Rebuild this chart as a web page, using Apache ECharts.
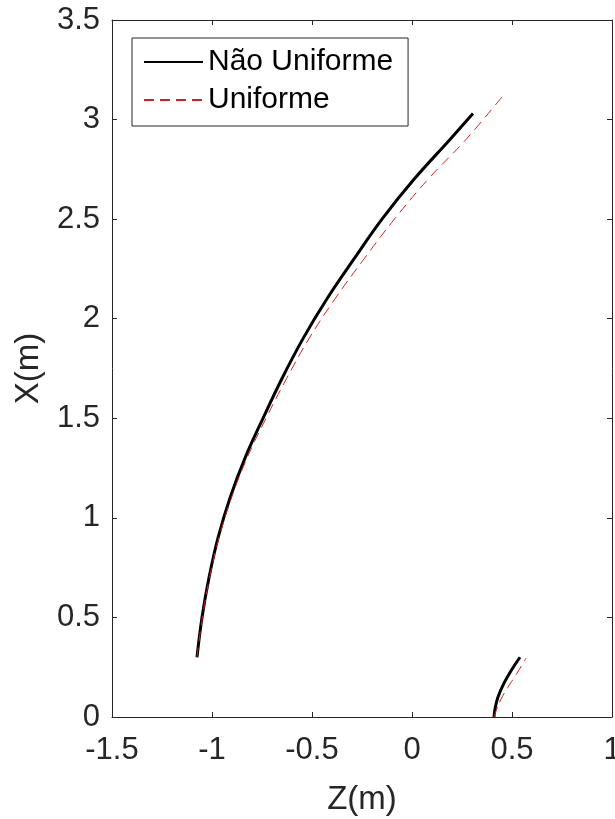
<!DOCTYPE html>
<html>
<head>
<meta charset="utf-8">
<script src="https://cdn.jsdelivr.net/npm/echarts@6/dist/echarts.min.js"></script>
<style>html,body{margin:0;padding:0;background:#fff;}#c{width:615px;height:819px;}</style>
</head>
<body>
<div id="c"></div>
<script>
// Non-uniform (black solid), main branch: [Z, X]
const naoUniformeA = [[-1.075,0.30],[-1.05,0.50],[-1.015,0.70],[-0.97,0.90],[-0.91,1.10],[-0.835,1.30],[-0.745,1.50],[-0.65,1.70],[-0.545,1.90],[-0.425,2.10],[-0.29,2.30],[-0.15,2.50],[0.01,2.70],[0.19,2.90],[0.305,3.03]];
// Non-uniform, lower branch
const naoUniformeB = [[0.41,0.0],[0.415,0.04],[0.43,0.10],[0.46,0.17],[0.50,0.24],[0.54,0.30]];
// Uniform (red dashed), main branch
const uniformeA = [[-1.075,0.30],[-1.048,0.50],[-1.012,0.70],[-0.965,0.90],[-0.903,1.10],[-0.825,1.30],[-0.73,1.50],[-0.627,1.70],[-0.515,1.90],[-0.385,2.10],[-0.24,2.30],[-0.088,2.50],[0.08,2.70],[0.27,2.90],[0.46,3.126]];
// Uniform, lower branch
const uniformeB = [[0.41,0.0],[0.42,0.03],[0.445,0.09],[0.48,0.15],[0.525,0.22],[0.57,0.296]];
const xTicks = [-1.5,-1,-0.5,0,0.5,1];
const yTicks = [0,0.5,1,1.5,2,2.5,3,3.5];

const font = 'Liberation Sans, Arial, Helvetica, sans-serif';
const txt = '#262626';
const chart = echarts.init(document.getElementById('c'));
const blackStyle = {color:'#000', width:3, type:'solid'};
const redStyle = {color:'#d42020', width:1, type:[10,6]};
const tickStyle = {show:true,inside:true,length:5,lineStyle:{color:txt}};
chart.setOption({
  animation:false,
  backgroundColor:'#fff',
  grid:{left:112,right:3,top:20,bottom:102,show:false,containLabel:false,outerBoundsMode:'none'},
  legend:{
    orient:'vertical', left:132, top:38,
    backgroundColor:'#fff', borderColor:txt, borderWidth:1, borderRadius:0,
    padding:[5,15,7,11], itemGap:0, itemWidth:59, itemHeight:14,
    itemStyle:{opacity:0},
    textStyle:{fontFamily:font, fontSize:30, lineHeight:38, color:'#000'},
    data:['Não Uniforme','Uniforme']
  },
  xAxis:[{
    type:'value', min:xTicks[0], max:xTicks[xTicks.length-1], interval:0.5,
    name:'Z(m)', nameLocation:'middle', nameGap:66,
    nameTextStyle:{fontFamily:font,fontSize:33,color:txt},
    axisLine:{show:true,onZero:false,lineStyle:{color:txt}},
    axisTick:tickStyle,
    axisLabel:{fontFamily:font,fontSize:31,color:txt,margin:18,formatter:v=>String(v)},
    splitLine:{show:false}
  },{
    type:'value', position:'top', min:xTicks[0], max:xTicks[xTicks.length-1], interval:0.5,
    axisLine:{show:true,onZero:false,lineStyle:{color:txt}},
    axisTick:tickStyle,
    axisLabel:{show:false}, splitLine:{show:false}
  }],
  yAxis:[{
    type:'value', min:yTicks[0], max:yTicks[yTicks.length-1], interval:0.5,
    name:'X(m)', nameLocation:'middle', nameGap:67, nameRotate:90,
    nameTextStyle:{fontFamily:font,fontSize:33,color:txt},
    axisLine:{show:true,onZero:false,lineStyle:{color:txt}},
    axisTick:tickStyle,
    axisLabel:{fontFamily:font,fontSize:31,color:txt,margin:12,formatter:v=>String(v)},
    splitLine:{show:false}
  },{
    type:'value', position:'right', min:yTicks[0], max:yTicks[yTicks.length-1], interval:0.5,
    axisLine:{show:true,onZero:false,lineStyle:{color:txt}},
    axisTick:tickStyle,
    axisLabel:{show:false}, splitLine:{show:false}
  }],
  series:[
    {name:'Uniforme', type:'line', data:uniformeA, smooth:0.4, symbol:'none', lineStyle:redStyle, itemStyle:{color:redStyle.color}, z:3},
    {name:'Uniforme', type:'line', data:uniformeB, smooth:0.4, symbol:'none', lineStyle:redStyle, itemStyle:{color:redStyle.color}, z:3},
    {name:'Não Uniforme', type:'line', data:naoUniformeA, smooth:0.4, symbol:'none', lineStyle:blackStyle, itemStyle:{color:'#000'}, z:2},
    {name:'Não Uniforme', type:'line', data:naoUniformeB, smooth:0.4, symbol:'none', lineStyle:blackStyle, itemStyle:{color:'#000'}, z:2}
  ]
});
</script>
</body>
</html>
